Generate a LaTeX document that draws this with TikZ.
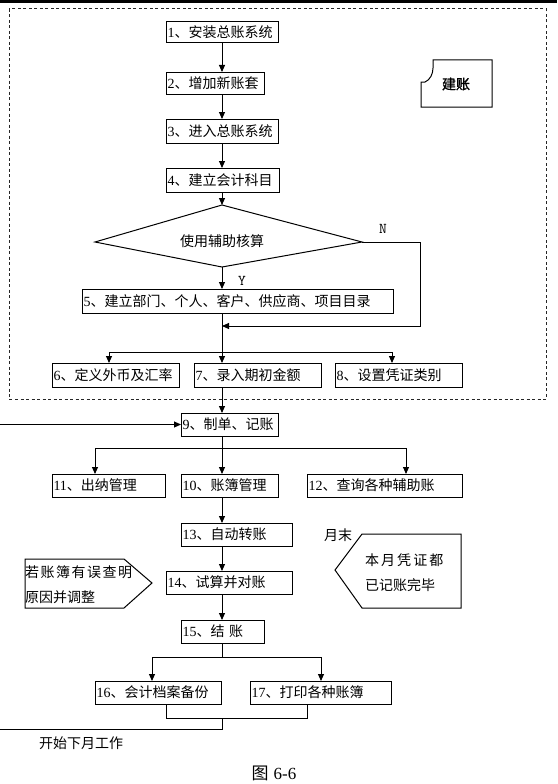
\documentclass[tikz,border=0pt]{standalone}
\usepackage{fontspec}
\setmainfont{Liberation Serif}
\newfontfamily\cjk{Noto Sans CJK SC}
\newfontfamily\cjka[LetterSpace=11]{Noto Sans CJK SC}
\newfontfamily\cjkb[LetterSpace=15]{Noto Sans CJK SC}
\newfontfamily\cjkbold[FakeBold=1.2]{Noto Sans CJK SC}
\usetikzlibrary{arrows.meta}
\begin{document}
\begin{tikzpicture}[x=1pt,y=-1pt,
  every node/.style={inner sep=0pt, outer sep=0pt, font=\fontsize{14}{16}\selectfont},
  box/.style={draw=black, line width=1pt, inner xsep=1.5pt, inner ysep=0pt, anchor=north west, align=left},
  ln/.style={line width=0.9pt, draw=black},
  shp/.style={line width=1pt, draw=black},
  arr/.style={ln, -{Triangle[length=7pt,width=6pt]}},
  dashbox/.style={line width=1pt, draw=black!85, dash pattern=on 3pt off 2.5pt},
  lbl/.style={font=\fontsize{15}{16}\selectfont\ttfamily},
]
\useasboundingbox (0,0) rectangle (557,784);
\fill[white] (0,0) rectangle (557,784);
\fill[black] (0,0) rectangle (557,3.5);
\draw[dashbox] (9,9) rectangle (546,399);
\coordinate (ax) at (222,0);

% boxes
\node[box, text width=109pt, minimum height=21pt] (b1) at (166,22) {1\cjk 、安装总账系统};
\node[box, text width=95pt, minimum height=22pt] (b2) at (166,72) {2\cjk 、增加新账套};
\node[box, text width=109pt, minimum height=24pt] (b3) at (166,119) {3\cjk 、进入总账系统};
\node[box, text width=110pt, minimum height=24pt] (b4) at (166,168) {4\cjk 、建立会计科目};
\node[box, text width=308pt, minimum height=24pt] (b5) at (82,289) {5\cjk 、建立部门、个人、客户、供应商、项目目录};
\node[box, text width=124pt, minimum height=24pt] (b6) at (52,363) {6\cjk 、定义外币及汇率};
\node[box, text width=124pt, minimum height=24pt] (b7) at (194,363) {7\cjk 、录入期初金额};
\node[box, text width=124pt, minimum height=24pt] (b8) at (335,363) {8\cjk 、设置凭证类别};
\node[box, text width=94pt, minimum height=23pt] (b9) at (181,413) {9\cjk 、制单、记账};
\node[box, text width=110pt, minimum height=23pt] (b11) at (52,474) {11\cjk 、出纳管理};
\node[box, text width=94pt, minimum height=23pt] (b10) at (181,474) {10\cjk 、账簿管理};
\node[box, text width=152pt, minimum height=23pt] (b12) at (307,474) {12\cjk 、查询各种辅助账};
\node[box, text width=108pt, minimum height=23pt] (b13) at (181,523) {13\cjk 、自动转账};
\node[box, text width=123pt, minimum height=23pt] (b14) at (166,571) {14\cjk 、试算并对账};
\node[box, text width=80pt, minimum height=23pt] (b15) at (181,620) {15\cjk 、结 账};
\node[box, text width=123pt, minimum height=23pt] (b16) at (95,681) {16\cjk 、会计档案备份};
\node[box, text width=138pt, minimum height=23pt] (b17) at (250,681) {17\cjk 、打印各种账簿};

% decision
\coordinate (dT) at (222,205);
\coordinate (dR) at (362,242);
\coordinate (dB) at (222,267);
\coordinate (dL) at (95,242);
\draw[shp] (dT) -- (dR) -- (dB) -- (dL) -- cycle;
\node (dq) at (222,241) {\cjk 使用辅助核算};
\node[lbl] (Y) at (242,281) {Y};
\node[lbl] (N) at (383,229) {N};

% top chain
\draw[arr] (b1.south -| ax) -- (b2.north -| ax);
\draw[arr] (b2.south -| ax) -- (b3.north -| ax);
\draw[arr] (b3.south -| ax) -- (b4.north -| ax);
\draw[arr] (b4.south -| ax) -- (dT);
\draw[arr] (dB) -- (b5.north -| ax);
\coordinate (nR) at (420,242);
\coordinate (nB) at (420,326);
\draw[arr] (dR) -- (nR) -- (nB) -- (nB -| ax);

% distribution to 6,7,8
\coordinate (bar1) at (222,352);
\coordinate (bar1L) at (109,352);
\coordinate (bar1R) at (392,352);
\draw[ln] (b5.south -| ax) -- (bar1);
\draw[ln] (bar1L) -- (bar1R);
\draw[arr] (bar1L) -- (bar1L |- b6.north);
\draw[arr] (bar1) -- (b7.north -| ax);
\draw[arr] (bar1R) -- (bar1R |- b8.north);

% to 9
\draw[arr] (b7.south -| ax) -- (b9.north -| ax);
\coordinate (in9) at (0,424.5);
\draw[arr] (in9) -- (b9.west);

% distribution to 11,10,12
\coordinate (bar2) at (222,448);
\coordinate (bar2L) at (95,448);
\coordinate (bar2R) at (406,448);
\draw[ln] (b9.south -| ax) -- (bar2);
\draw[ln] (bar2L) -- (bar2R);
\draw[arr] (bar2L) -- (bar2L |- b11.north);
\draw[arr] (bar2) -- (b10.north -| ax);
\draw[arr] (bar2R) -- (bar2R |- b12.north);

% chain 10 -> 13 -> 14 -> 15
\draw[arr] (b10.south -| ax) -- (b13.north -| ax);
\draw[arr] (b13.south -| ax) -- (b14.north -| ax);
\draw[arr] (b14.south -| ax) -- (b15.north -| ax);

% distribution to 16,17
\coordinate (bar3) at (222,657);
\coordinate (bar3L) at (152,657);
\coordinate (bar3R) at (321,657);
\draw[ln] (b15.south -| ax) -- (bar3);
\draw[ln] (bar3L) -- (bar3R);
\draw[arr] (bar3L) -- (bar3L |- b16.north);
\draw[arr] (bar3R) -- (bar3R |- b17.north);

% merge and return
\coordinate (j1) at (166,718);
\coordinate (j2) at (307,718);
\coordinate (j3) at (222,718);
\coordinate (j4) at (222,729);
\coordinate (j5) at (0,729);
\draw[ln] (j1 |- b16.south) -- (j1) -- (j2) -- (j2 |- b17.south);
\draw[ln] (j3) -- (j4) -- (j5);
\node[anchor=west] (next) at (39,743) {\cjk 开始下月工作};

% card "建账"
\draw[shp] (421,107) -- (421,82) -- (425,82) .. controls (430,80) and (433,74) .. (433,68) -- (433,60) -- (492,60) -- (492,107) -- cycle;
\node (jz) at (456,84) {\cjkbold 建账};

% left note
\draw[shp] (25,559) -- (124,559) -- (152,583) -- (124,608) -- (25,608) -- cycle;
\node[anchor=west] (lt1) at (25,572) {\cjka 若账簿有误查明};
\node[anchor=west] (lt2) at (25,597) {\cjk 原因并调整};

% right note
\draw[shp] (335,570) -- (362,534) -- (461,534) -- (461,608) -- (362,608) -- cycle;
\node[anchor=west] (rt1) at (365,560) {\cjkb 本月凭证都};
\node[anchor=west] (rt2) at (365,585) {\cjk 已记账完毕};
\node (ym) at (338,535) {\cjk 月末};

% caption
\node (cap) at (274,773) {\fontsize{17}{19}\selectfont{\cjk 图}\hspace{5pt}6-6};
\end{tikzpicture}
\end{document}
